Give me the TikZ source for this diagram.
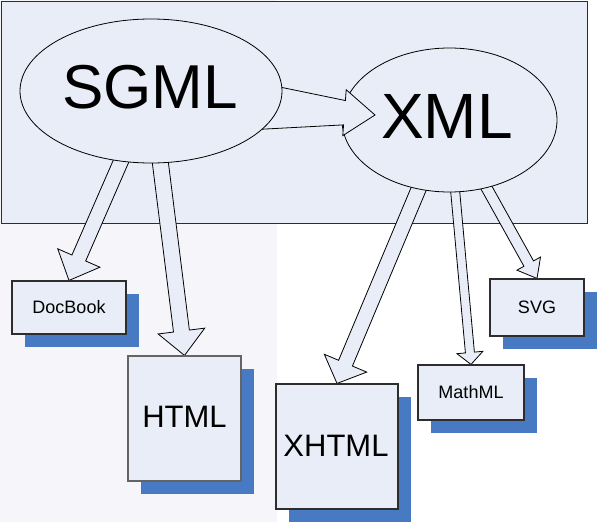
\documentclass[tikz,border=0pt]{standalone}
\usepackage{fontspec}
\setmainfont{Liberation Sans}
\usetikzlibrary{shapes.geometric,calc,shadows}
\definecolor{fillc}{RGB}{232,237,247}
\definecolor{bgc}{RGB}{245,245,250}
\definecolor{shad}{RGB}{72,122,196}
\definecolor{edgec}{RGB}{45,45,45}
\pgfdeclarelayer{back}
\pgfdeclarelayer{lowarrows}
\pgfdeclarelayer{mid}
\pgfdeclarelayer{top}
\pgfsetlayers{back,lowarrows,main,mid,top}
\tikzset{
  frame/.style={draw=edgec, fill=fillc, line width=1pt, inner sep=0pt},
  oval/.style={ellipse, draw=black, fill=fillc, line width=0.8pt, inner sep=0pt},
  docbox/.style={rectangle, draw=edgec, fill=fillc, line width=1.1pt, inner sep=0pt,
    drop shadow={shadow xshift=12.5pt, shadow yshift=-12.5pt, fill=shad, opacity=1}},
  bigtext/.style={inner sep=0pt, font=\fontsize{62}{62}\selectfont},
  midtext/.style={inner sep=0pt, font=\fontsize{31}{31}\selectfont},
  smalltext/.style={inner sep=0pt, font=\fontsize{18}{18}\selectfont},
  arrowsty/.style={draw=black, fill=fillc, line width=0.8pt, line join=miter}
}
% block arrow: #1 start, #2 tip, #3 half width at start, #4 half width at neck, #5 head half width, #6 head length
\newcommand\blockarrow[6]{%
  \coordinate (bahd) at ($(#2)!#6pt!(#1)$);
  \draw[arrowsty] ($(#1)!#3pt!90:(#2)$) -- ($(bahd)!#4pt!90:(#2)$) -- ($(bahd)!#5pt!90:(#2)$)
    -- (#2) -- ($(bahd)!#5pt!-90:(#2)$) -- ($(bahd)!#4pt!-90:(#2)$) -- ($(#1)!#3pt!-90:(#2)$) -- cycle;}
\begin{document}
\begin{tikzpicture}[x=1pt,y=-1pt]
\useasboundingbox (0,0) rectangle (597,522);
\begin{pgfonlayer}{back}
  \fill[white] (0,0) rectangle (597,522);
  \fill[bgc] (0,0) rectangle (277,522);
  \node[frame, minimum width=586pt, minimum height=222pt] (frame) at (294,112) {};
\end{pgfonlayer}
% ellipses
\node[oval, minimum width=215pt, minimum height=144pt] (xml) at (449.5,120) {};
\node[bigtext, font=\fontsize{64}{64}\selectfont] (xmltext) at (447,116) {XML};
\begin{pgfonlayer}{top}
  \node[oval, minimum width=262pt, minimum height=144pt] (sgml) at (151,91) {};
  \node[bigtext] (sgmltext) at (150,87.5) {SGML};
\end{pgfonlayer}
% boxes
\node[docbox, minimum width=114pt, minimum height=53pt] (docbook) at (69,307.5) {};
\node[smalltext] (docbooktext) at (69,307) {DocBook};
\node[docbox, draw={rgb,255:red,100;green,100;blue,100}, minimum width=113pt, minimum height=125pt] (html) at (184.5,418.5) {};
\node[midtext] (htmltext) at (184.5,416.5) {HTML};
\node[docbox, minimum width=122pt, minimum height=125pt] (xhtml) at (337,446.5) {};
\node[midtext] (xhtmltext) at (336,446) {XHTML};
\node[docbox, minimum width=106pt, minimum height=55pt] (mathml) at (471,392.5) {};
\node[smalltext] (mathmltext) at (471,392) {MathML};
\node[docbox, minimum width=94pt, minimum height=57pt] (svg) at (537,307.5) {};
\node[smalltext] (svgtext) at (537,307) {SVG};
% arrow start points
\coordinate (s1) at ($(sgml.center)+(-12,29)$);
\coordinate (s2) at ($(sgml.center)+(4,29)$);
\coordinate (s3) at ($(xml.center)+(-14.5,30)$);
\coordinate (s4) at ($(xml.center)+(1.9,30)$);
\coordinate (s5) at ($(xml.center)+(16,30)$);
\coordinate (s6) at ($(sgml.center)+(99,14.6)$);
\coordinate (t6) at ($(xml.center)+(-74.5,-5)$);
\begin{pgfonlayer}{lowarrows}
  \blockarrow{s1}{docbook.north}{7.5}{7.5}{23}{24.5}
  \blockarrow{s2}{html.north}{8}{8}{23.5}{24.6}
  \blockarrow{s3}{xhtml.north}{7.5}{7.5}{23}{22}
  \blockarrow{s4}{mathml.north}{4.5}{4.5}{13}{12}
  \blockarrow{s5}{svg.north}{5.5}{5.5}{13.5}{17}
\end{pgfonlayer}
\begin{pgfonlayer}{mid}
  \blockarrow{s6}{t6}{24.4}{12.2}{23}{30.6}
\end{pgfonlayer}
\end{tikzpicture}
\end{document}
